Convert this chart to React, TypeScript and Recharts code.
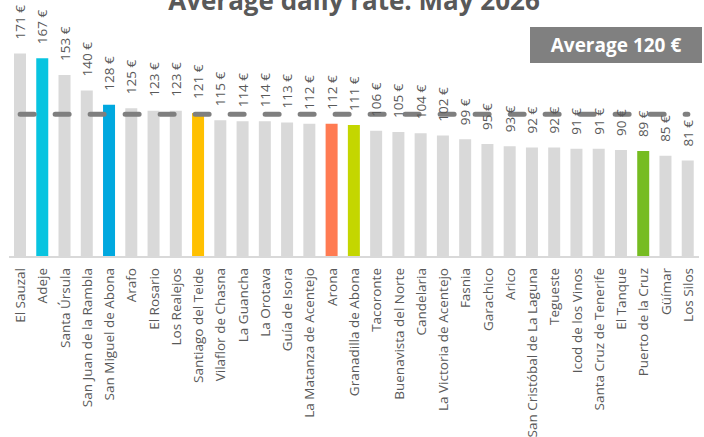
import { Bar, Cell, ComposedChart, LabelList, Line, XAxis, YAxis } from 'recharts'

const municipalities = [
  'El Sauzal', 'Adeje', 'Santa Úrsula', 'San Juan de la Rambla', 'San Miguel de Abona', 'Arafo',
  'El Rosario', 'Los Realejos', 'Santiago del Teide', 'Vilaflor de Chasna', 'La Guancha', 'La Orotava',
  'Guía de Isora', 'La Matanza de Acentejo', 'Arona', 'Granadilla de Abona', 'Tacoronte',
  'Buenavista del Norte', 'Candelaria', 'La Victoria de Acentejo', 'Fasnia', 'Garachico', 'Arico',
  'San Cristóbal de La Laguna', 'Tegueste', 'Icod de los Vinos', 'Santa Cruz de Tenerife', 'El Tanque',
  'Puerto de la Cruz', 'Güímar', 'Los Silos',
]

const adr = [
  171, 167, 153, 140, 128, 125, 123, 123, 121, 115, 114, 114, 113, 112, 112, 111, 106, 105, 104, 102,
  99, 95, 93, 92, 92, 91, 91, 90, 89, 85, 81,
]

const average = 120

const highlight: Record<string, string> = {
  Adeje: '#08c4e0',
  'San Miguel de Abona': '#00a8df',
  'Santiago del Teide': '#ffc000',
  Arona: '#ff7b52',
  'Granadilla de Abona': '#c4d600',
  'Puerto de la Cruz': '#76bc21',
}

const data = municipalities.map((name, i) => ({ name, adr: adr[i], avg: average }))

const FONT = '"Open Sans", sans-serif'

function ValueLabel(props: any) {
  const { x, y, width, value } = props
  const cx = x + width / 2
  const ty = y - 14
  return (
    <text
      x={cx}
      y={ty}
      transform={`rotate(-90 ${cx} ${ty})`}
      textAnchor="start"
      dominantBaseline="central"
      fontSize={13.5}
      fontFamily={FONT}
      fill="#595959"
    >
      {value} €
    </text>
  )
}

function NameTick(props: any) {
  const { x, y, payload } = props
  const ty = y + 3
  return (
    <text
      x={x}
      y={ty}
      transform={`rotate(-90 ${x} ${ty})`}
      textAnchor="end"
      dominantBaseline="central"
      fontSize={13.5}
      fontFamily={FONT}
      fill="#595959"
    >
      {payload.value}
    </text>
  )
}

export default function App() {
  return (
    <div style={{ position: 'absolute', left: 0, top: 0, width: 704, height: 437, background: '#fff' }}>
      <ComposedChart width={704} height={437} data={data} margin={{ top: 19, right: 5, left: 9, bottom: 0 }}>
        <text x={354} y={10} textAnchor="middle" fontSize={26} fontWeight={700} fontFamily={FONT} fill="#595959">
          Average daily rate: May 2026
        </text>
        <rect x={530} y={27} width={172} height={36} fill="#808080" />
        <text x={616} y={52} textAnchor="middle" fontSize={19} fontWeight={700} fontFamily={FONT} fill="#ffffff">
          Average {average} €
        </text>
        <XAxis
          dataKey="name"
          interval={0}
          height={180}
          tickLine={false}
          axisLine={{ stroke: '#d9d9d9', strokeWidth: 2 }}
          tick={<NameTick />}
        />
        <YAxis hide domain={[0, 200]} />
        <Bar dataKey="adr" fill="#d9d9d9" barSize={12} isAnimationActive={false}>
          {data.map((d) => (
            <Cell key={d.name} fill={highlight[d.name] ?? '#d9d9d9'} />
          ))}
          <LabelList dataKey="adr" content={<ValueLabel />} />
        </Bar>
        <Line
          dataKey="avg"
          stroke="#7f7f7f"
          strokeWidth={5}
          strokeDasharray="14 21"
          strokeLinecap="round"
          dot={false}
          activeDot={false}
          isAnimationActive={false}
        />
      </ComposedChart>
    </div>
  )
}
